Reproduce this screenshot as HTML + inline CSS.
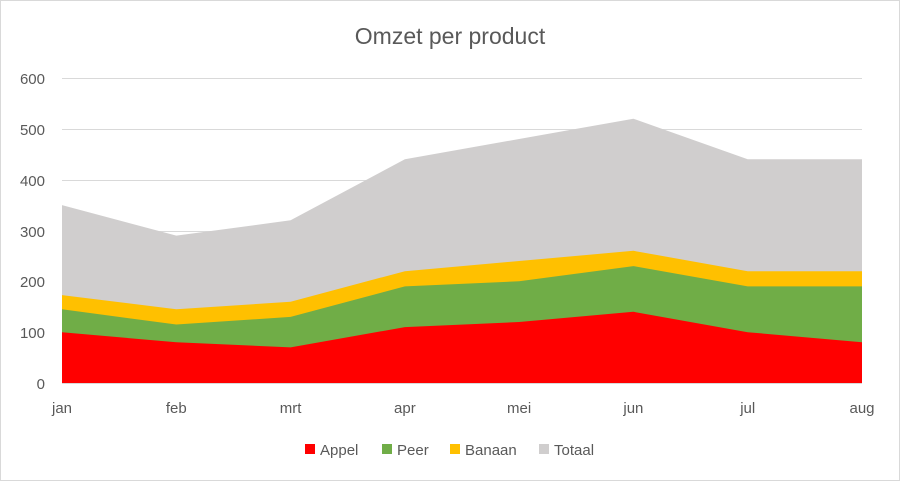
<!DOCTYPE html>
<html><head><meta charset="utf-8"><style>
body{margin:0;background:#fff}
svg{display:block;font-family:"Liberation Sans",sans-serif}
</style></head><body>
<svg width="900" height="481" viewBox="0 0 900 481">
<rect x="0.5" y="0.5" width="899" height="480" fill="#fff" stroke="#d9d9d9"/>
<text x="450" y="44" text-anchor="middle" font-size="23" fill="#595959">Omzet per product</text>
<g stroke="#d9d9d9" stroke-width="1">
<line x1="62" x2="862" y1="78.5" y2="78.5"/>
<line x1="62" x2="862" y1="129.5" y2="129.5"/>
<line x1="62" x2="862" y1="180.5" y2="180.5"/>
<line x1="62" x2="862" y1="231.5" y2="231.5"/>
<line x1="62" x2="862" y1="281.5" y2="281.5"/>
<line x1="62" x2="862" y1="332.5" y2="332.5"/>
</g>
<polygon fill="#D0CECE" points="62,383 62,205.1 176.3,235.6 290.6,220.3 404.9,159.3 519.1,139 633.4,118.7 747.7,159.3 862,159.3 862,383"/>
<polygon fill="#FFC000" points="62,383 62,295.1 176.3,309.3 290.6,301.7 404.9,271.2 519.1,261 633.4,250.8 747.7,271.2 862,271.2 862,383"/>
<polygon fill="#70AD47" points="62,383 62,309.3 176.3,324.5 290.6,316.9 404.9,286.4 519.1,281.3 633.4,266.1 747.7,286.4 862,286.4 862,383"/>
<polygon fill="#FF0000" points="62,383 62,332.2 176.3,342.3 290.6,347.4 404.9,327.1 519.1,322 633.4,311.8 747.7,332.2 862,342.3 862,383"/>
<line x1="62" x2="862" y1="383.5" y2="383.5" stroke="#d9d9d9"/>
<g font-size="15" fill="#595959" text-anchor="end">
<text x="45" y="84">600</text><text x="45" y="135">500</text><text x="45" y="186">400</text>
<text x="45" y="237">300</text><text x="45" y="287">200</text><text x="45" y="338">100</text><text x="45" y="389">0</text>
</g>
<g font-size="15" fill="#595959" text-anchor="middle">
<text x="62" y="413">jan</text><text x="176.3" y="413">feb</text><text x="290.6" y="413">mrt</text>
<text x="404.9" y="413">apr</text><text x="519.1" y="413">mei</text><text x="633.4" y="413">jun</text>
<text x="747.7" y="413">jul</text><text x="862" y="413">aug</text>
</g>
<g font-size="15" fill="#595959">
<rect x="305" y="444" width="10" height="10" fill="#FF0000"/><text x="320" y="455">Appel</text>
<rect x="382" y="444" width="10" height="10" fill="#70AD47"/><text x="397" y="455">Peer</text>
<rect x="450" y="444" width="10" height="10" fill="#FFC000"/><text x="465" y="455">Banaan</text>
<rect x="539" y="444" width="10" height="10" fill="#D0CECE"/><text x="554" y="455">Totaal</text>
</g>
</svg>
</body></html>
